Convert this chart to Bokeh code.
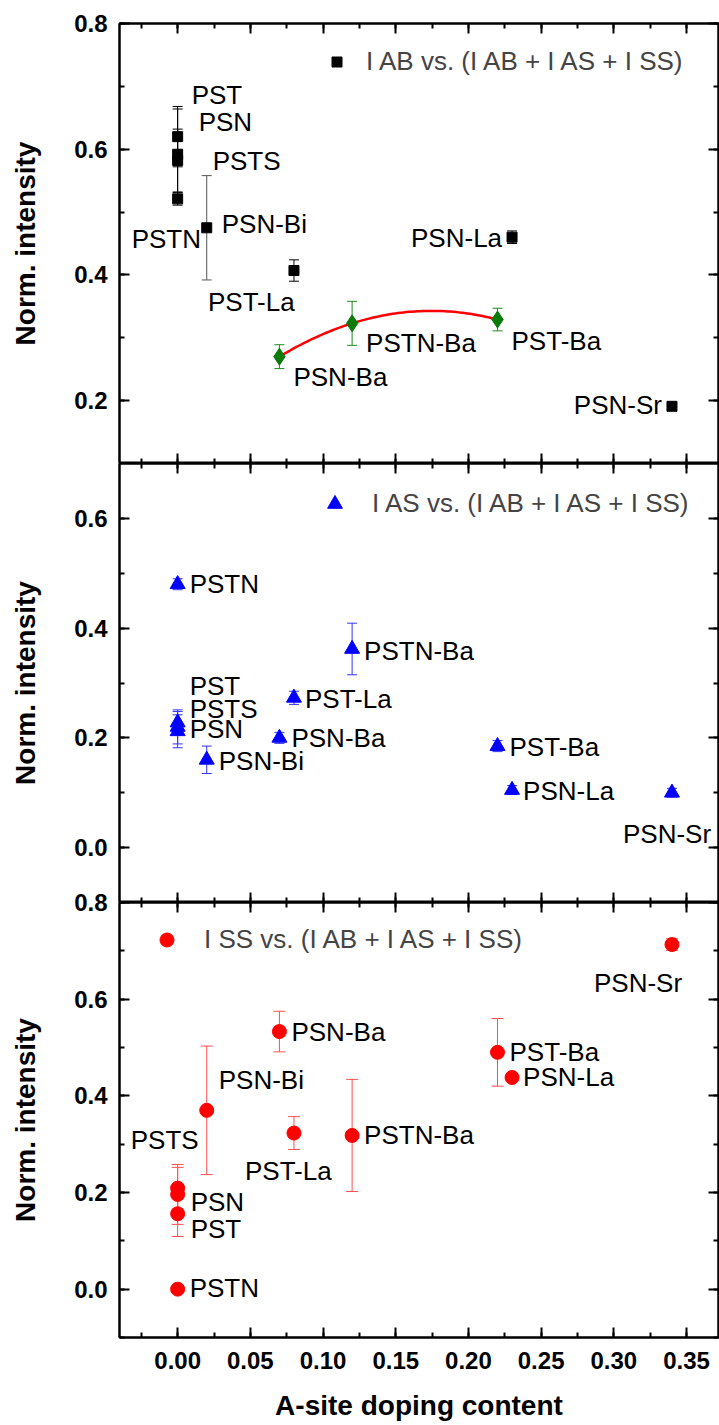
import numpy as np
from bokeh.plotting import figure
from bokeh.models import (ColumnDataSource, Whisker, TeeHead, LinearAxis, SingleIntervalTicker,
                          NumeralTickFormatter, Range1d, Legend, LegendItem, CustomLabelingPolicy)
from bokeh.layouts import column
from bokeh.embed import file_html
from bokeh.resources import INLINE
from bokeh.core.properties import value

# ---------------- data ----------------
samples = ["PST", "PSN", "PSTS", "PSTN", "PSN-Bi", "PSN-Ba", "PST-La", "PSTN-Ba", "PST-Ba", "PSN-La", "PSN-Sr"]
doping = [0.00, 0.00, 0.00, 0.00, 0.02, 0.07, 0.08, 0.12, 0.22, 0.23, 0.34]
i_ab = [0.620, 0.592, 0.582, 0.521, 0.475, 0.270, 0.407, 0.323, 0.329, 0.460, 0.191]
i_ab_err = [0.048, 0.072, 0.050, 0.010, 0.083, 0.019, 0.017, 0.035, 0.018, 0.010, 0.006]
i_as = [0.228, 0.212, 0.220, 0.480, 0.160, 0.200, 0.273, 0.362, 0.185, 0.105, 0.100]
i_as_err = [0.020, 0.030, 0.031, 0.010, 0.025, 0.010, 0.012, 0.047, 0.010, 0.008, 0.008]
i_ss = [0.156, 0.196, 0.209, 0.000, 0.370, 0.533, 0.323, 0.318, 0.490, 0.438, 0.713]
i_ss_err = [0.047, 0.062, 0.043, 0.000, 0.133, 0.042, 0.034, 0.116, 0.070, 0.008, 0.012]
ba_doped = ["PSN-Ba", "PSTN-Ba", "PST-Ba"]

legend_ab = "I AB vs. (I AB + I AS + I SS)"
legend_as = "I AS vs. (I AB + I AS + I SS)"
legend_ss = "I SS vs. (I AB + I AS + I SS)"
x_title = "A-site doping content"
y_title = "Norm. intensity"

# ---------------- label placement (screen offsets, px) ----------------
off_ab = {"PST": (14, -42, "left"), "PSN": (21, -32, "left"), "PSTS": (35, 0, "left"),
          "PSTN": (-46, 40, "left"), "PSN-Bi": (15, -4, "left"), "PSN-Ba": (14, 20, "left"),
          "PST-La": (-86, 31, "left"), "PSTN-Ba": (14, 20, "left"), "PST-Ba": (14, 21, "left"),
          "PSN-La": (-10, 1, "right"), "PSN-Sr": (-10, -1, "right")}
off_as = {"PST": (12, -37, "left"), "PSN": (12, -2, "left"), "PSTS": (12, -18, "left"),
          "PSTN": (12, 0, "left"), "PSN-Bi": (12, 1, "left"), "PSN-Ba": (12, 0, "left"),
          "PST-La": (11, 1, "left"), "PSTN-Ba": (12, 2, "left"), "PST-Ba": (12, 1, "left"),
          "PSN-La": (11, 1, "left"), "PSN-Sr": (-49, 41, "left")}
off_ss = {"PST": (13, 15, "left"), "PSN": (13, 8, "left"), "PSTS": (21, -48, "right"),
          "PSTN": (12, -1, "left"), "PSN-Bi": (12, -30, "left"), "PSN-Ba": (12, 0, "left"),
          "PST-La": (-49, 38, "left"), "PSTN-Ba": (12, 0, "left"), "PST-Ba": (12, 0, "left"),
          "PSN-La": (11, 0, "left"), "PSN-Sr": (-78, 38, "left")}

FONT = "Liberation Sans"
LABEL_SIZE = "26px"
x_range = Range1d(-0.04, 0.372)


def style_axis(ax, labels=True):
    ax.axis_line_width = 2
    ax.major_tick_line_width = 2
    ax.minor_tick_line_width = 2
    ax.major_tick_in = 10
    ax.major_tick_out = 0
    ax.minor_tick_in = 5
    ax.minor_tick_out = 0
    ax.major_label_text_font = FONT
    ax.major_label_text_font_style = "bold"
    ax.major_label_text_font_size = "24px" if labels else "0px"
    ax.major_label_text_color = "black"
    ax.axis_label_text_color = "black"
    if not labels:
        ax.major_label_standoff = 0
        ax.major_label_policy = CustomLabelingPolicy(code="return []")


def make_panel(ymin, ymax, frame_h, top_b, bottom_b, x_labels):
    p = figure(frame_width=599, frame_height=frame_h, x_range=x_range,
               y_range=Range1d(ymin, ymax), output_backend="svg", toolbar_location=None,
               x_axis_location=None, y_axis_location=None,
               min_border_left=119, min_border_right=1, min_border_top=top_b,
               min_border_bottom=bottom_b)
    p.xgrid.grid_line_color = None
    p.ygrid.grid_line_color = None
    p.outline_line_color = "black"
    p.outline_line_width = 2
    p.background_fill_color = "white"
    p.border_fill_color = "white"

    yl = LinearAxis(ticker=SingleIntervalTicker(interval=0.2, num_minor_ticks=2),
                    formatter=NumeralTickFormatter(format="0.0"), axis_label=y_title)
    style_axis(yl)
    yl.major_label_standoff = 12
    yl.axis_label_text_font = FONT
    yl.axis_label_text_font_style = "bold"
    yl.axis_label_text_font_size = "28px"
    yl.axis_label_standoff = 30
    p.add_layout(yl, "left")

    yr = LinearAxis(ticker=SingleIntervalTicker(interval=0.2, num_minor_ticks=2))
    style_axis(yr, labels=False)
    p.add_layout(yr, "right")

    xt = LinearAxis(ticker=SingleIntervalTicker(interval=0.05, num_minor_ticks=2))
    style_axis(xt, labels=False)
    p.add_layout(xt, "above")

    xb = LinearAxis(ticker=SingleIntervalTicker(interval=0.05, num_minor_ticks=2),
                    formatter=NumeralTickFormatter(format="0.00"))
    style_axis(xb, labels=x_labels)
    if x_labels:
        xb.major_label_standoff = 14
        xb.axis_label = x_title
        xb.axis_label_text_font = FONT
        xb.axis_label_text_font_style = "bold"
        xb.axis_label_text_font_size = "28px"
        xb.axis_label_standoff = 18
    p.add_layout(xb, "below")
    return p


def add_errors(p, xs, ys, errs, color, head=10):
    src = ColumnDataSource(dict(x=xs, upper=[y + e for y, e in zip(ys, errs)],
                                lower=[y - e for y, e in zip(ys, errs)]))
    w = Whisker(source=src, base="x", upper="upper", lower="lower", line_color=color,
                line_width=1, level="underlay",
                upper_head=TeeHead(size=head, line_color=color, line_width=1),
                lower_head=TeeHead(size=head, line_color=color, line_width=1))
    p.add_layout(w)


def add_labels(p, ys, offsets):
    for align in ("left", "right"):
        idx = [i for i, s in enumerate(samples) if offsets[s][2] == align]
        src = ColumnDataSource(dict(x=[doping[i] for i in idx], y=[ys[i] for i in idx],
                                    t=[samples[i] for i in idx],
                                    dx=[offsets[samples[i]][0] for i in idx],
                                    dy=[offsets[samples[i]][1] for i in idx]))
        p.text(x="x", y="y", text="t", x_offset="dx", y_offset="dy", source=src,
               text_font=value(FONT), text_font_size=LABEL_SIZE, text_color="black",
               text_align=align, text_baseline="middle")


def add_legend(p, label, renderer, loc, glyph, standoff):
    lg = Legend(items=[LegendItem(label=label, renderers=[renderer])], location=loc,
                border_line_color=None, background_fill_alpha=0, padding=0, margin=0,
                spacing=0, glyph_width=glyph, glyph_height=glyph, label_standoff=standoff,
                label_text_font=FONT, label_text_font_size=LABEL_SIZE, label_height=20)
    p.add_layout(lg)


# ---------------- top panel: I AB ----------------
p1 = make_panel(0.1, 0.8, 440, 23, 0, False)
blk = [i for i, s in enumerate(samples) if s not in ba_doped]
grn = [i for i, s in enumerate(samples) if s in ba_doped]
gray_err = ["PSN-Bi"]
blk_main = [i for i in blk if samples[i] not in gray_err]
blk_gray = [i for i in blk if samples[i] in gray_err]
add_errors(p1, [doping[i] for i in blk_main], [i_ab[i] for i in blk_main],
           [i_ab_err[i] for i in blk_main], "black")
add_errors(p1, [doping[i] for i in blk_gray], [i_ab[i] for i in blk_gray],
           [i_ab_err[i] for i in blk_gray], "#555555")
add_errors(p1, [doping[i] for i in grn], [i_ab[i] for i in grn],
           [i_ab_err[i] for i in grn], "#1e8a1e")
xg = np.array([doping[i] for i in grn])
yg = np.array([i_ab[i] for i in grn])
coef = np.polyfit(xg, yg, 2)
xf = np.linspace(xg.min(), xg.max(), 80)
p1.line(xf, np.polyval(coef, xf), line_color="red", line_width=2.5)
r_sq = p1.scatter([doping[i] for i in blk], [i_ab[i] for i in blk], marker="square",
                  size=10, fill_color="black", line_color="black")
p1.scatter(list(xg), list(yg), marker="diamond", size=17, fill_color="#0a7a0a",
           line_color="#0a7a0a")
add_labels(p1, i_ab, off_ab)
add_legend(p1, legend_ab, r_sq, (205, 386), 25, 17)

# ---------------- middle panel: I AS ----------------
p2 = make_panel(-0.1, 0.7, 439, 0, 0, False)
add_errors(p2, doping, i_as, i_as_err, "#3333ff")
r_tri = p2.scatter(doping, i_as, marker="triangle", size=15, fill_color="#0000ff",
                   line_color="#0000ff")
add_labels(p2, i_as, off_as)
add_legend(p2, legend_as, r_tri, (197, 380), 37, 19)

# ---------------- bottom panel: I SS ----------------
p3 = make_panel(-0.1, 0.8, 435, 14, 88, True)
p3.border_fill_alpha = 0
p3.margin = (-14, 0, 0, 0)
add_errors(p3, doping, i_ss, i_ss_err, "#ff5050", head=12)
r_cir = p3.scatter(doping, i_ss, marker="circle", size=14, fill_color="#ff0000",
                   line_color="#ff0000")
add_labels(p3, i_ss, off_ss)
add_legend(p3, legend_ss, r_cir, (30, 380), 35, 20)

layout = column(p1, p2, p3, spacing=0)
open("out.html", "w").write(file_html(layout, INLINE))
